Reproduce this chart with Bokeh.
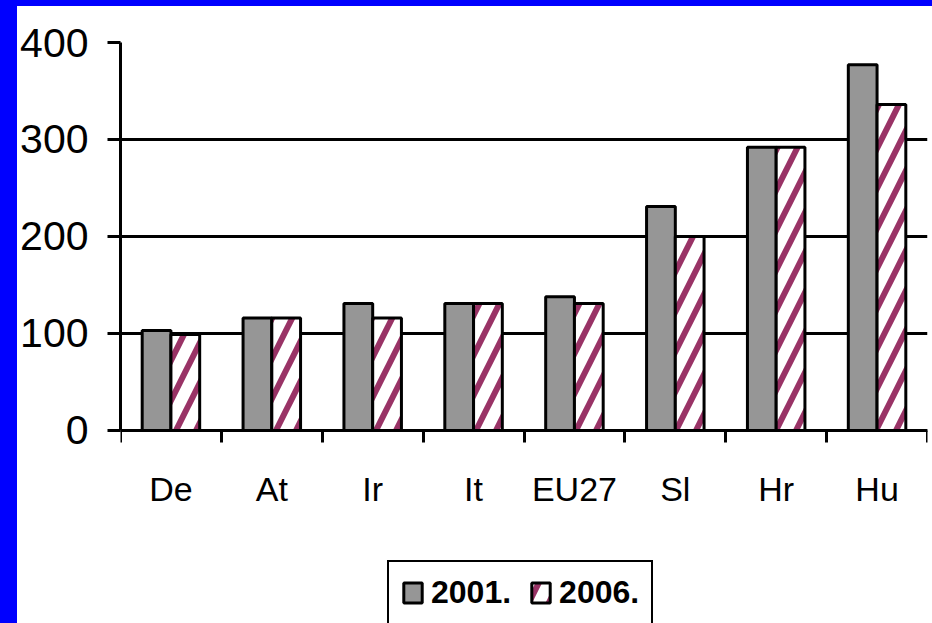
from bokeh.plotting import figure
from bokeh.models import Range1d, FixedTicker, Legend, LegendItem, GlobalInlineStyleSheet
from bokeh.embed import file_html
from bokeh.resources import INLINE

categories = ["De", "At", "Ir", "It", "EU27", "Sl", "Hr", "Hu"]
values_2001 = [103, 116, 131, 131, 138, 231, 292, 377]
values_2006 = [99, 116, 116, 131, 131, 200, 292, 336]
series_labels = ["2001.", "2006."]
y_ticks = [0, 100, 200, 300, 400]

FONT = "Liberation Sans"
BAR_W = 0.285
Y_MAX = 400
Y_MIN = -199  # empty space below the baseline holds the category labels and legend

n = len(categories)
centers = [i + 0.5 for i in range(n)]
x1 = [c - BAR_W / 2 for c in centers]
x2 = [c + BAR_W / 2 for c in centers]

page_css = GlobalInlineStyleSheet(css=(
    "html, body { margin: 0; padding: 0; background: #ffffff; overflow: hidden; }"
    "body { border-left: 17px solid #0000ff; border-top: 6px solid #0000ff; }"))

p = figure(width=915, height=617, output_backend="svg", toolbar_location=None,
           x_range=Range1d(0, n), y_range=Range1d(Y_MIN, Y_MAX),
           min_border_left=103, min_border_right=5, min_border_top=36,
           min_border_bottom=0, stylesheets=[page_css])
p.background_fill_color = "white"
p.border_fill_color = "white"
p.outline_line_color = None

r1 = p.vbar(x=x1, top=values_2001, width=BAR_W, bottom=0,
            fill_color="#969696", line_color="black", line_width=3)
r2 = p.vbar(x=x2, top=values_2006, width=BAR_W, bottom=0,
            fill_color="white", line_color="black", line_width=3,
            hatch_pattern="/", hatch_color="#993366", hatch_scale=40, hatch_weight=6)

# x axis, drawn at the value 0
p.xaxis.fixed_location = 0
p.xaxis.ticker = FixedTicker(ticks=centers, minor_ticks=list(range(n + 1)))
p.xaxis.major_label_overrides = {c: lab for c, lab in zip(centers, categories)}
p.xaxis.major_tick_line_color = None
p.xaxis.major_tick_out = 0
p.xaxis.major_tick_in = 0
p.xaxis.minor_tick_line_color = "black"
p.xaxis.minor_tick_line_width = 3
p.xaxis.minor_tick_out = 12
p.xaxis.minor_tick_in = 0
p.xaxis.axis_line_color = "black"
p.xaxis.axis_line_width = 3
p.xaxis.major_label_text_font = FONT
p.xaxis.major_label_text_font_size = "34px"
p.xaxis.major_label_text_color = "black"
p.xaxis.major_label_standoff = 28
p.xgrid.visible = False

# y axis
p.yaxis.bounds = (0, Y_MAX)
p.yaxis.ticker = FixedTicker(ticks=y_ticks)
p.yaxis.major_tick_line_color = "black"
p.yaxis.major_tick_line_width = 3
p.yaxis.major_tick_out = 13
p.yaxis.major_tick_in = 0
p.yaxis.minor_tick_line_color = None
p.yaxis.minor_tick_out = 0
p.yaxis.axis_line_color = "black"
p.yaxis.axis_line_width = 3
p.yaxis.major_label_text_font = FONT
p.yaxis.major_label_text_font_size = "41px"
p.yaxis.major_label_text_color = "black"
p.yaxis.major_label_standoff = 19
p.ygrid.grid_line_color = "black"
p.ygrid.grid_line_width = 3

legend = Legend(items=[LegendItem(label=series_labels[0], renderers=[r1]),
                       LegendItem(label=series_labels[1], renderers=[r2])],
                orientation="horizontal", location=(267, -2))
legend.border_line_color = "black"
legend.border_line_alpha = 1.0
legend.border_line_width = 2
legend.background_fill_color = "white"
legend.background_fill_alpha = 1
legend.label_text_font = FONT
legend.label_text_font_style = "bold"
legend.label_text_font_size = "32px"
legend.label_text_color = "black"
legend.glyph_width = 23
legend.glyph_height = 25
legend.label_standoff = 7
legend.spacing = 18
legend.padding = 12
legend.margin = 0
p.add_layout(legend, "center")

open("out.html", "w").write(file_html(p, INLINE))
